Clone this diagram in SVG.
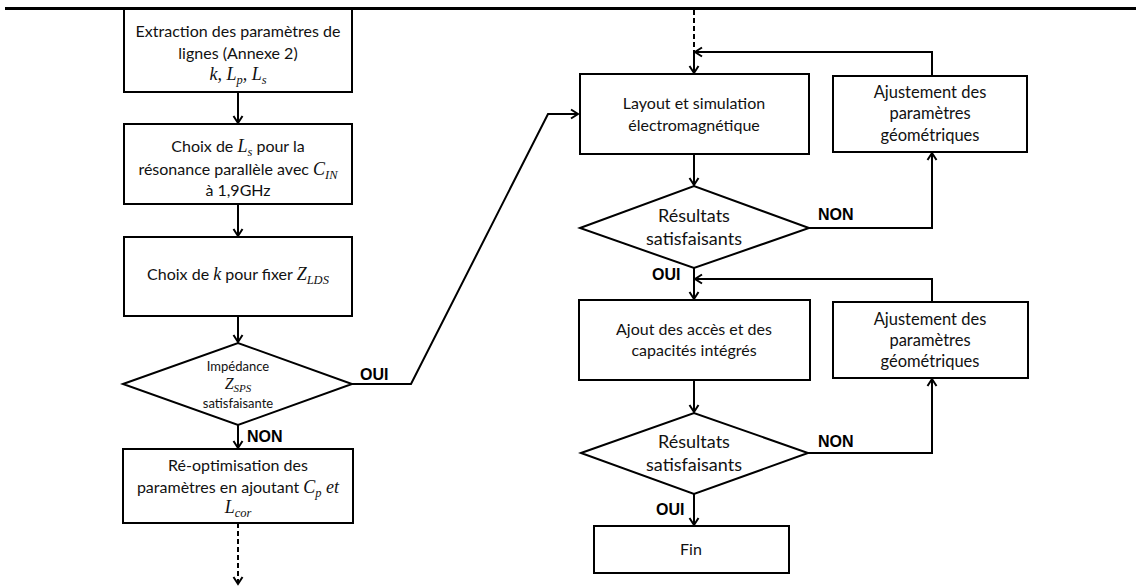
<svg xmlns="http://www.w3.org/2000/svg" width="1136" height="588" viewBox="0 0 1136 588">
<style>
.box{fill:#fff;stroke:#000;stroke-width:2}
.c{fill:none;stroke:#000;stroke-width:2}
.d{stroke-dasharray:5,3}
.t{font-family:Lato,"Liberation Sans",sans-serif;font-size:16px;fill:#111;text-anchor:middle}
.s{font-size:13px}
.aj{font-size:16.5px}
.big{font-size:18px}
.m{font-family:"Liberation Serif",serif;font-style:italic;font-size:18px}
.sub{font-family:"Liberation Serif",serif;font-style:italic;font-size:12.5px}
.lb{font-family:"Liberation Sans",Arial,sans-serif;font-weight:bold;font-size:16px;fill:#000}
</style>
<defs>
<marker id="a" viewBox="-9 -6 11 12" refX="0" refY="0" markerWidth="11" markerHeight="12" markerUnits="userSpaceOnUse" orient="auto">
<path d="M-7,-4.5 L0,0 L-7,4.5" fill="none" stroke="#000" stroke-width="2"/>
</marker>
</defs>
<rect width="1136" height="588" fill="#fff"/>
<line x1="5" y1="8.5" x2="1136" y2="8.5" stroke="#000" stroke-width="3"/>

<g id="connectors">
<line class="c" x1="238" y1="92" x2="238" y2="123" marker-end="url(#a)"/>
<line class="c" x1="238" y1="204" x2="238" y2="236" marker-end="url(#a)"/>
<line class="c" x1="238" y1="316" x2="238" y2="342" marker-end="url(#a)"/>
<line class="c" x1="238" y1="425" x2="238" y2="448" marker-end="url(#a)"/>
<line class="c d" x1="238" y1="523" x2="238" y2="584" marker-end="url(#a)"/>
<polyline class="c" points="352,384 411,384 548,114 578,114" marker-end="url(#a)"/>
<line class="c d" x1="694" y1="10" x2="694" y2="52"/>
<line class="c" x1="694" y1="52" x2="694" y2="73" marker-end="url(#a)"/>
<polyline class="c" points="932,76 932,52 695,52" marker-end="url(#a)"/>
<line class="c" x1="694" y1="154" x2="694" y2="185" marker-end="url(#a)"/>
<polyline class="c" points="809,228 932,228 932,153" marker-end="url(#a)"/>
<line class="c" x1="694" y1="268" x2="694" y2="299" marker-end="url(#a)"/>
<polyline class="c" points="932,302 932,279 695,279" marker-end="url(#a)"/>
<line class="c" x1="694" y1="380" x2="694" y2="412" marker-end="url(#a)"/>
<polyline class="c" points="808,453 932,453 932,379" marker-end="url(#a)"/>
<line class="c" x1="694" y1="494" x2="694" y2="525" marker-end="url(#a)"/>
<text class="lb" x="360" y="380">OUI</text>
<text class="lb" x="247" y="442">NON</text>
<text class="lb" x="818" y="220">NON</text>
<text class="lb" x="652" y="280">OUI</text>
<text class="lb" x="818" y="447">NON</text>
<text class="lb" x="656" y="515">OUI</text>
</g>

<g id="n1">
<rect class="box" x="124" y="9" width="228" height="83"/>
<text class="t" x="238" y="37">Extraction des paramètres de</text>
<text class="t" x="238" y="59">lignes (Annexe 2)</text>
<text class="t" x="238" y="80"><tspan class="m">k, L</tspan><tspan class="sub" dy="4">p</tspan><tspan class="m" dy="-4">, L</tspan><tspan class="sub" dy="4">s</tspan></text>
</g>

<g id="n2">
<rect class="box" x="124" y="124" width="228" height="80"/>
<text class="t" x="238" y="152">Choix de <tspan class="m">L</tspan><tspan class="sub" dy="4">s</tspan><tspan dy="-4"> pour la</tspan></text>
<text class="t" x="238" y="175">résonance parallèle avec <tspan class="m">C</tspan><tspan class="sub" dy="4">IN</tspan></text>
<text class="t" x="238" y="196">à 1,9GHz</text>
</g>

<g id="n3">
<rect class="box" x="124" y="237" width="228" height="79"/>
<text class="t" x="238" y="280">Choix de <tspan class="m">k</tspan> pour fixer <tspan class="m">Z</tspan><tspan class="sub" dy="4">LDS</tspan></text>
</g>

<g id="n4">
<polygon class="box" points="123,384 238,343 352,384 238,425"/>
<text class="t s" x="238" y="371">Impédance</text>
<text class="t" x="238" y="389"><tspan class="m" style="font-size:16px">Z</tspan><tspan class="sub" style="font-size:11px" dy="3">SPS</tspan></text>
<text class="t s" x="238" y="408">satisfaisante</text>
</g>

<g id="n5">
<rect class="box" x="123" y="449" width="230" height="74"/>
<text class="t" x="238" y="471">Ré-optimisation des</text>
<text class="t" x="238" y="493">paramètres en ajoutant <tspan class="m">C</tspan><tspan class="sub" dy="4">p</tspan><tspan class="m" dy="-4"> et</tspan></text>
<text class="t" x="238" y="513"><tspan class="m">L</tspan><tspan class="sub" dy="4">cor</tspan></text>
</g>

<g id="n6">
<rect class="box" x="580" y="74" width="229" height="80"/>
<text class="t" x="694" y="109">Layout et simulation</text>
<text class="t" x="694" y="131">électromagnétique</text>
</g>

<g id="n7">
<rect class="box" x="833" y="76" width="194" height="76"/>
<text class="t aj" x="930" y="98">Ajustement des</text>
<text class="t aj" x="930" y="119">paramètres</text>
<text class="t aj" x="930" y="141">géométriques</text>
</g>

<g id="n8">
<polygon class="box" points="580,228 694,186 809,228 694,268"/>
<text class="t big" x="694" y="222">Résultats</text>
<text class="t big" x="694" y="245">satisfaisants</text>
</g>

<g id="n9">
<rect class="box" x="579" y="300" width="231" height="80"/>
<text class="t" x="694" y="335">Ajout des accès et des</text>
<text class="t" x="694" y="356">capacités intégrés</text>
</g>

<g id="n10">
<rect class="box" x="833" y="302" width="195" height="76"/>
<text class="t aj" x="930" y="325">Ajustement des</text>
<text class="t aj" x="930" y="346">paramètres</text>
<text class="t aj" x="930" y="367">géométriques</text>
</g>

<g id="n11">
<polygon class="box" points="581,453 694,413 808,453 694,494"/>
<text class="t big" x="694" y="448">Résultats</text>
<text class="t big" x="694" y="471">satisfaisants</text>
</g>

<g id="n12">
<rect class="box" x="594" y="526" width="195" height="47"/>
<text class="t" x="691" y="555">Fin</text>
</g>
</svg>
